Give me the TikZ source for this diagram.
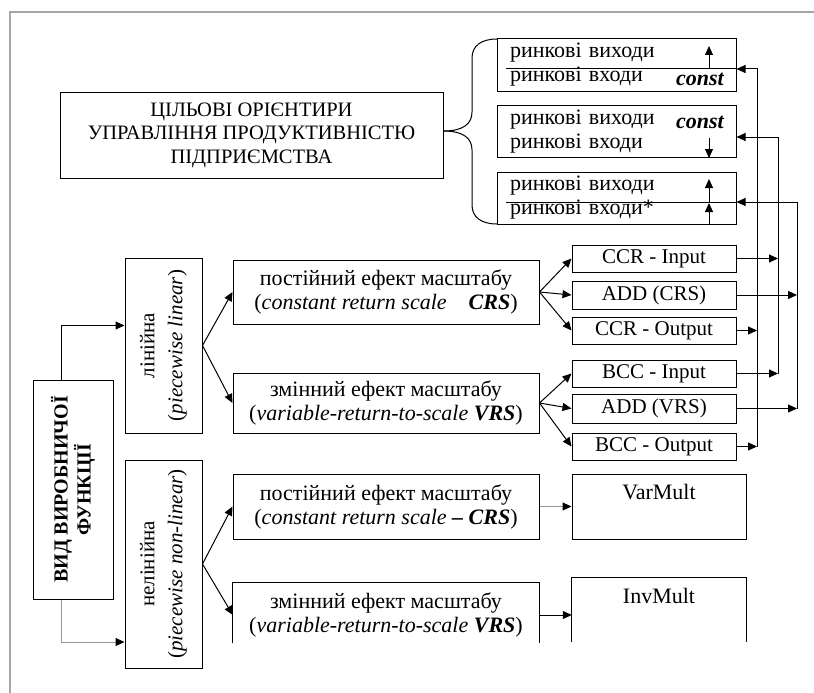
\documentclass[tikz,border=0pt]{standalone}
\usepackage{fontspec}
\setmainfont{Liberation Serif}
\usetikzlibrary{arrows.meta,calc}
\begin{document}
\begin{tikzpicture}[x=1pt,y=-1pt,
    txt/.style={inner sep=0pt,align=center,font=\fontsize{22}{24}\selectfont},
    box/.style={txt,draw,line width=1pt},
    mkt/.style={box,minimum width=239,minimum height=52,text width=213,align=left},
    small/.style={box,minimum width=164,minimum height=27,font=\fontsize{21}{24}\selectfont},
    wide/.style={minimum width=306,minimum height=64},
    tag/.style={inner sep=0pt,anchor=east,font=\fontsize{22}{24}\selectfont\bfseries\itshape},
    arr/.style={line width=1pt,-{Triangle[length=9pt,width=8pt,color=black]}},
    faint/.style={draw=black!40}]
  \useasboundingbox (0,0) rectangle (814,693);
  \draw[black!35,line width=2pt] (10,693) -- (10,12) -- (814,12);
  \node[box,minimum width=383,minimum height=86,font=\fontsize{20.5}{23.5}\selectfont] (goal) at (251.5,135) {ЦІЛЬОВІ ОРІЄНТИРИ\\УПРАВЛІННЯ ПРОДУКТИВНІСТЮ\\ПІДПРИЄМСТВА};
  \node[mkt] (mkt1) at (616.5,65) {ринкові виходи\\ринкові входи};
  \node[mkt] (mkt2) at (616.5,131.5) {ринкові виходи\\ринкові входи};
  \node[mkt] (mkt3) at (616.5,198) {ринкові виходи\\ринкові входи*};
  \node[tag] (const1) at (724,79) {const};
  \node[tag] (const2) at (724,122) {const};
  \draw[line width=1pt] (472,58) .. controls (472,46) and (481,39) .. (497,39);
  \draw[line width=1pt] (goal.east |- 0,131) .. controls (463,131) and (472,124) .. (472,112) -- (472,58);
  \draw[line width=1pt] (goal.east |- 0,131) .. controls (463,131) and (472,138) .. (472,150) -- (472,205) .. controls (472,217) and (481,224) .. (497,224);
  \draw[line width=1pt] (506,69) -- (736,69);
  \draw[line width=1pt] (506,202) -- (736,202);
  \draw[arr] (709,69) -- (709,46);
  \draw[arr] (709,138) -- (709,158);
  \draw[arr] (709,202) -- (709,179);
  \draw[arr] (709,224) -- (709,203);
  \node[box,rotate=90,minimum width=219,minimum height=80,font=\fontsize{20}{23}\selectfont\bfseries] (kind) at (73,489.5) {ВИД ВИРОБНИЧОЇ\\ФУНКЦІЇ};
  \node[box,rotate=90,minimum width=175,minimum height=77,font=\fontsize{21}{28}\selectfont] (lin) at (163.5,345.5) {лінійна\\(\textit{piecewise linear})};
  \node[box,rotate=90,minimum width=208,minimum height=77,font=\fontsize{21}{28}\selectfont] (nonlin) at (163.5,564) {нелінійна\\(\textit{piecewise non-linear})};
  \node[box,wide] (crsL) at (386,292) {постійний ефект масштабу\\(\textit{constant return scale}\quad\textbf{\textit{CRS}})};
  \node[box,wide,minimum height=60] (vrsL) at (386,403) {змінний ефект масштабу\\(\textit{variable-return-to-scale} \textbf{\textit{VRS}})};
  \node[box,wide,minimum height=65] (crsN) at (386,506.5) {постійний ефект масштабу\\(\textit{constant return scale} \textbf{\textit{– CRS}})};
  \node[txt,wide] (vrsN) at (386,615) {змінний ефект масштабу\\(\textit{variable-return-to-scale} \textbf{\textit{VRS}})};
  \draw[line width=1pt] ($(vrsN.south west)+(0,-4)$) |- (vrsN.north east) -- ($(vrsN.south east)+(0,-4)$);
  \node[small] (ccrIn) at (654,258.5) {CCR - Input};
  \node[small,minimum height=28] (addCrs) at (654,295) {ADD (CRS)};
  \node[small] (ccrOut) at (654,330.5) {CCR - Output};
  \node[small] (bccIn) at (654,373.5) {BCC - Input};
  \node[small,minimum height=29] (addVrs) at (654,408.5) {ADD (VRS)};
  \node[small] (bccOut) at (654,446.5) {BCC - Output};
  \node[box,minimum width=174,minimum height=65] (varMult) at (659,506.5) {\strut VarMult\\\strut};
  \node[txt,minimum width=174,minimum height=66] (invMult) at (659,611) {\strut InvMult\\\strut};
  \draw[line width=1pt] ($(invMult.south west)+(0,-2)$) |- (invMult.north east) -- ($(invMult.south east)+(0,-2)$);
  \draw[arr] ($(kind.east)+(-12,0)$) |- ($(lin.north)+(0,-20)$);
  \draw[arr,faint] ($(kind.west)+(-12,0)$) |- ($(nonlin.north)+(0,78)$);
  \draw[arr] (lin.south) -- (crsL.west);
  \draw[arr] (lin.south) -- (vrsL.west);
  \draw[arr] (nonlin.south) -- (crsN.west);
  \draw[arr] (nonlin.south) -- (vrsN.west);
  \foreach \n in {ccrIn,addCrs,ccrOut} \draw[arr] (crsL.east) -- (\n.west);
  \foreach \n in {bccIn,addVrs,bccOut} \draw[arr] (vrsL.east) -- (\n.west);
  \draw[arr,faint] (crsN.east) -- (crsN.east -| varMult.west);
  \draw[arr] (vrsN.east) -- (vrsN.east -| invMult.west);
  \coordinate (busA) at (757,69);
  \coordinate (busB) at (778,137);
  \coordinate (busC) at (797,202);
  \draw[arr] (ccrOut.east) -- (ccrOut.east -| busA);
  \draw[arr] (bccOut.east) -- (bccOut.east -| busA);
  \draw[arr] (bccOut.east -| busA) -- (busA) -- (mkt1.east |- busA);
  \draw[arr] (ccrIn.east) -- (ccrIn.east -| busB);
  \draw[arr] (bccIn.east) -- (bccIn.east -| busB);
  \draw[arr] (bccIn.east -| busB) -- (busB) -- (mkt2.east |- busB);
  \draw[arr] (addCrs.east) -- (addCrs.east -| busC);
  \draw[arr] (addVrs.east) -- (addVrs.east -| busC);
  \draw[arr] (addVrs.east -| busC) -- (busC) -- (mkt3.east |- busC);
\end{tikzpicture}
\end{document}
